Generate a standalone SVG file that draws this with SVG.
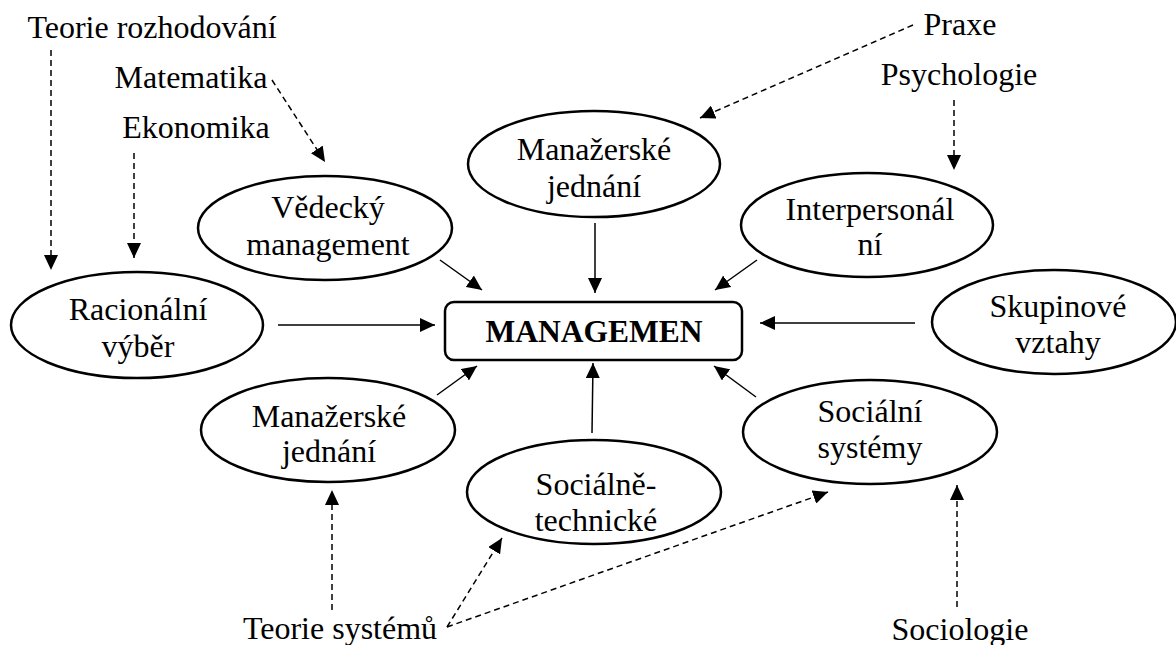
<svg xmlns="http://www.w3.org/2000/svg" width="1176" height="645" viewBox="0 0 1176 645">
<style>
  .node ellipse { fill: #fff; stroke: #000; stroke-width: 2.5; }
  .node rect { fill: #fff; stroke: #000; stroke-width: 2.5; }
  text { font-family: "Liberation Serif", "Times New Roman", serif; font-size: 32px; fill: #000; }
  .c { text-anchor: middle; }
  .b { font-weight: bold; font-size: 31.5px; }
  .solid { stroke: #000; stroke-width: 1.5; fill: none; marker-end: url(#ah); }
  .dash { stroke: #000; stroke-width: 1.5; fill: none; stroke-dasharray: 6 4; marker-end: url(#ah); }
</style>
<defs>
  <marker id="ah" markerUnits="userSpaceOnUse" markerWidth="15" markerHeight="14" refX="15" refY="7" orient="auto">
    <path d="M0,0 L15,7 L0,14 z" fill="#000"/>
  </marker>
</defs>
<rect width="1176" height="645" fill="#fff"/>

<g id="connectors">
  <line class="solid" x1="440" y1="260" x2="482" y2="290"/>
  <line class="solid" x1="595" y1="223" x2="595" y2="293"/>
  <line class="solid" x1="757" y1="260" x2="715" y2="290"/>
  <line class="solid" x1="278" y1="325" x2="435" y2="325"/>
  <line class="solid" x1="915" y1="323" x2="760" y2="323"/>
  <line class="solid" x1="437" y1="395" x2="477" y2="366"/>
  <line class="solid" x1="592" y1="433" x2="593" y2="363"/>
  <line class="solid" x1="756" y1="397" x2="714" y2="366"/>

  <line class="dash" x1="51" y1="50" x2="51" y2="270"/>
  <line class="dash" x1="272" y1="80" x2="325" y2="162"/>
  <line class="dash" x1="134" y1="153" x2="134" y2="258"/>
  <line class="dash" x1="913" y1="25" x2="700" y2="118"/>
  <line class="dash" x1="954" y1="100" x2="954" y2="170"/>
  <line class="dash" x1="332" y1="610" x2="332" y2="490"/>
  <line class="dash" x1="447" y1="627" x2="502" y2="538"/>
  <line class="dash" x1="447" y1="627" x2="828" y2="492"/>
  <line class="dash" x1="957" y1="607" x2="957" y2="485"/>
</g>

<g id="labels">
  <text class="c" x="152" y="38">Teorie rozhodování</text>
  <text class="c" x="191" y="88">Matematika</text>
  <text class="c" x="196" y="138">Ekonomika</text>
  <text class="c" x="960" y="35">Praxe</text>
  <text class="c" x="959" y="85">Psychologie</text>
  <text class="c" x="340" y="639">Teorie systémů</text>
  <text class="c" x="960" y="640">Sociologie</text>
</g>

<g id="vedecky" class="node">
  <ellipse cx="325" cy="228" rx="127" ry="52"/>
  <text class="c" x="328" y="218">Vědecký</text>
  <text class="c" x="328" y="255">management</text>
</g>
<g id="manazerske-top" class="node">
  <ellipse cx="594" cy="164" rx="126" ry="53"/>
  <text class="c" x="594" y="160">Manažerské</text>
  <text class="c" x="594" y="197">jednání</text>
</g>
<g id="interpersonalni" class="node">
  <ellipse cx="867" cy="225" rx="126" ry="52"/>
  <text class="c" x="870" y="220">Interpersonál</text>
  <text class="c" x="870" y="255">ní</text>
</g>
<g id="racionalni" class="node">
  <ellipse cx="137" cy="325" rx="126" ry="53"/>
  <text class="c" x="138" y="320">Racionální</text>
  <text class="c" x="138" y="357">výběr</text>
</g>
<g id="skupinove" class="node">
  <ellipse cx="1054" cy="322" rx="122" ry="52"/>
  <text class="c" x="1058" y="317">Skupinové</text>
  <text class="c" x="1058" y="353">vztahy</text>
</g>
<g id="manazerske-bottom" class="node">
  <ellipse cx="328" cy="430" rx="127" ry="52"/>
  <text class="c" x="329" y="427">Manažerské</text>
  <text class="c" x="329" y="462">jednání</text>
</g>
<g id="socialne-technicke" class="node">
  <ellipse cx="594" cy="492" rx="127" ry="52"/>
  <text class="c" x="596" y="495">Sociálně-</text>
  <text class="c" x="596" y="531">technické</text>
</g>
<g id="socialni-systemy" class="node">
  <ellipse cx="870" cy="432" rx="127" ry="52"/>
  <text class="c" x="870" y="422">Sociální</text>
  <text class="c" x="870" y="458">systémy</text>
</g>
<g id="managemen" class="node">
  <rect x="445" y="302" width="297" height="58" rx="9"/>
  <text class="c b" x="594" y="342">MANAGEMEN</text>
</g>
</svg>
